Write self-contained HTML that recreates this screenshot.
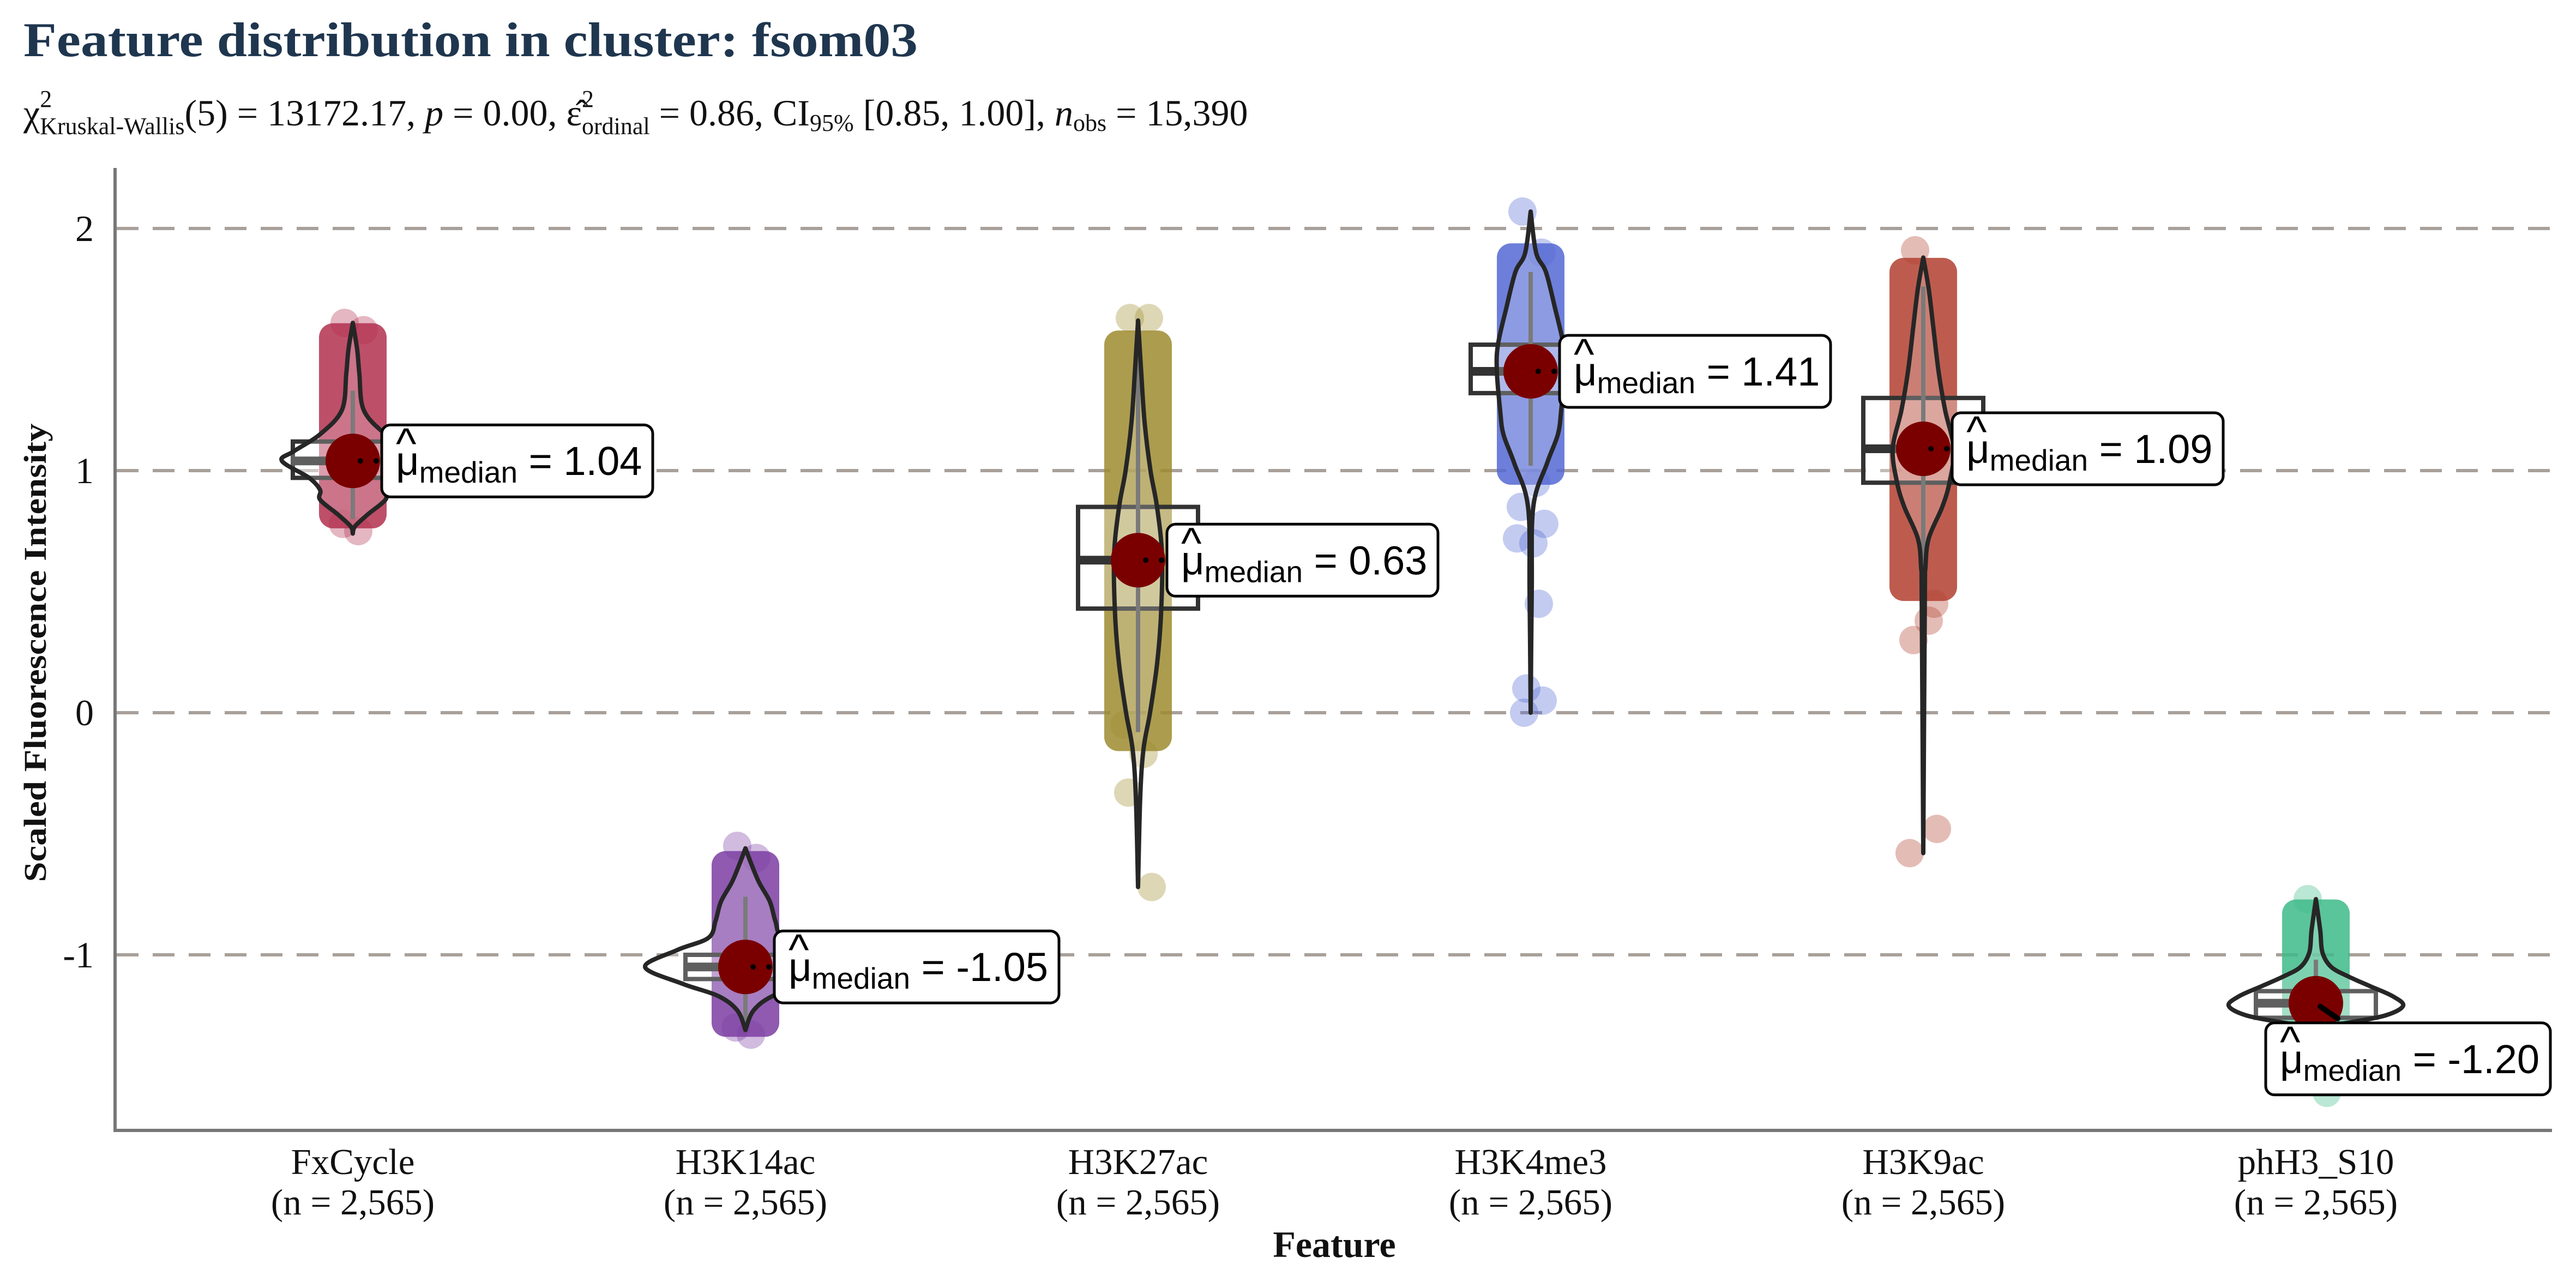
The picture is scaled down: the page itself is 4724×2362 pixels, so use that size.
<!DOCTYPE html>
<html><head><meta charset="utf-8"><style>
html,body{margin:0;padding:0;background:#fff;}
svg{display:block;}
</style></head><body>
<svg id="chart" xmlns="http://www.w3.org/2000/svg" width="4724" height="2362" viewBox="0 0 4724 2362">
<rect width="4724" height="2362" fill="#fff"/>
<text x="43" y="103" font-family="Liberation Serif, serif" font-weight="bold" font-size="89" fill="#1F364F" textLength="1640" lengthAdjust="spacingAndGlyphs">Feature distribution in cluster: fsom03</text>
<text id="subtitle" x="43" y="230" font-family="Liberation Serif, serif" font-size="68" fill="#111">χ<tspan font-size="44" dy="-34">2</tspan><tspan font-size="44" dx="-22" dy="50">Kruskal-Wallis</tspan><tspan dy="-16">(5) = 13172.17, </tspan><tspan font-style="italic">p</tspan><tspan> = 0.00, ε̂</tspan><tspan font-size="44" dy="-34">2</tspan><tspan font-size="44" dx="-22" dy="50">ordinal</tspan><tspan dy="-16"> = 0.86, CI</tspan><tspan font-size="44" dy="10">95%</tspan><tspan dy="-10"> [0.85, 1.00], </tspan><tspan font-style="italic">n</tspan><tspan font-size="44" dy="10">obs</tspan><tspan dy="-10"> = 15,390</tspan></text>
<g id="grid"></g>
<g id="marks"></g>
<g id="axes"></g>
</svg>
<script>
const categories = ["FxCycle","H3K14ac","H3K27ac","H3K4me3","H3K9ac","phH3_S10"];
const nLabels = ["(n = 2,565)","(n = 2,565)","(n = 2,565)","(n = 2,565)","(n = 2,565)","(n = 2,565)"];
const medians = [1.04,-1.05,0.63,1.41,1.09,-1.20];
const medianLabels = ["1.04","-1.05","0.63","1.41","1.09","-1.20"];
const q1 = [0.97,-1.10,0.43,1.32,0.95,-1.26];
const q3 = [1.12,-1.00,0.85,1.52,1.30,-1.15];
const whiskLow = [0.80,-1.32,-0.08,1.02,0.46,-1.36];
const whiskHigh = [1.33,-0.76,1.46,1.82,1.76,-1.02];
const denseLow = [0.82,-1.28,-0.10,1.00,0.52,-1.45];
const denseHigh = [1.55,-0.63,1.52,1.88,1.82,-0.83];
const outliers = [
 [1.61,1.58,0.75,0.78],
 [-0.55,-0.60,-1.33,-1.30],
 [1.63,1.63,-0.17,-0.33,-0.72,-0.05],
 [2.07,1.90,0.95,0.85,0.78,0.72,0.70,0.45,0.10,0.05,0.00],
 [1.91,0.45,0.38,0.30,-0.48,-0.58],
 [-0.77,-1.57]
];
const violinVals = [
 [1.61,1.50,1.40,1.25,1.15,1.08,1.04,0.97,0.92,0.88,0.82,0.77,0.74],
 [-0.56,-0.62,-0.70,-0.78,-0.86,-0.93,-0.98,-1.05,-1.12,-1.17,-1.23,-1.31],
 [1.62,1.40,1.20,1.00,0.85,0.65,0.40,0.20,0.00,-0.15,-0.35,-0.72],
 [2.07,1.90,1.82,1.67,1.52,1.41,1.25,1.15,1.03,0.85,0.50,0.00],
 [1.88,1.75,1.60,1.41,1.25,1.09,0.95,0.85,0.72,0.60,0.45,-0.58],
 [-0.77,-0.90,-0.99,-1.05,-1.09,-1.13,-1.17,-1.21,-1.25,-1.28,-1.30]
];
const violinDens = [
 [0,0.20,0.30,0.50,1.50,2.70,3.25,2.00,1.50,1.50,0.70,0.10,0],
 [0,0.25,0.62,1.12,1.37,1.70,3.12,4.60,2.87,1.25,0.37,0],
 [0,0.15,0.30,0.57,0.87,1.10,1.05,0.87,0.55,0.25,0.10,0],
 [0,0.25,0.70,1.12,1.50,1.55,1.40,1.25,0.75,0.12,0.05,0],
 [0,0.25,0.45,0.70,1.00,1.40,1.20,0.87,0.25,0.10,0.07,0],
 [0,0.20,0.30,0.70,1.50,2.50,3.50,4.00,3.20,1.50,0]
];
const yTicks = [-1,0,1,2];
const colors = ["#B3304F","#7B3DA2","#9E8B2F","#5469D3","#B2402F","#3DBA88"];

const NS="http://www.w3.org/2000/svg";
function el(tag, attrs, parent){const e=document.createElementNS(NS,tag);for(const k in attrs)e.setAttribute(k,attrs[k]);parent.appendChild(e);return e;}
function y(v){return 1307 - 444*v;}
function x(i){return 647 + 720*i;}
const DENS_PX = 40;
const grid=document.getElementById('grid'), marks=document.getElementById('marks'), axes=document.getElementById('axes');

yTicks.forEach(t=>{
 const g=el('line',{x1:214,x2:4680,y1:y(t),y2:y(t),stroke:'#A8A09A','stroke-width':6,'stroke-dasharray':'40 26'},grid);
 
 
 const tl=el('text',{x:172,y:y(t)+23,'text-anchor':'end','font-family':'Liberation Serif, serif','font-size':68,fill:'#111'},axes);
 tl.textContent=t;
 
 
});

function smoothPath(pts){
 let d='M'+pts[0][0]+','+pts[0][1];
 for(let i=0;i<pts.length-1;i++){
  const p0=pts[i-1]||pts[i],p1=pts[i],p2=pts[i+1],p3=pts[i+2]||p2;
  const c1=[p1[0]+(p2[0]-p0[0])/6,p1[1]+(p2[1]-p0[1])/6];
  const c2=[p2[0]-(p3[0]-p1[0])/6,p2[1]-(p3[1]-p1[1])/6];
  d+=' C'+c1[0]+','+c1[1]+' '+c2[0]+','+c2[1]+' '+p2[0]+','+p2[1];
 }
 return d;
}

const jitter=[-15,20,10,-18,25,-25,5,15,-8,22,-12];
categories.forEach((c,i)=>{
 const cx=x(i), col=colors[i];
 const g=el('g',{},marks);
 
 
 outliers[i].forEach((v,k)=>{
  const p=el('circle',{cx:cx+jitter[k%jitter.length],cy:y(v),r:26,fill:col,'fill-opacity':0.35},g);
  
  
 });
 const cl=el('rect',{x:cx-62,y:y(denseHigh[i])-26,width:124,height:y(denseLow[i])-y(denseHigh[i])+52,rx:26,fill:col,'fill-opacity':0.85},g);
 
 
 const bx=el('rect',{x:cx-110,y:y(q3[i]),width:220,height:y(q1[i])-y(q3[i]),fill:'#fff','fill-opacity':0.3,stroke:'#333','stroke-width':8},g);
 
 
 const wh=el('line',{x1:cx,x2:cx,y1:y(whiskLow[i]),y2:y(whiskHigh[i]),stroke:'#555','stroke-width':8},g);
 
 
 const ml=el('line',{x1:cx-110,x2:cx,y1:y(medians[i]),y2:y(medians[i]),stroke:'#333','stroke-width':16},g);
 
 
 const right=violinVals[i].map((v,k)=>[cx+violinDens[i][k]*DENS_PX,y(v)]);
 const left=violinVals[i].map((v,k)=>[cx-violinDens[i][k]*DENS_PX,y(v)]).reverse();
 const d=smoothPath(right)+' L'+smoothPath(left).slice(1)+' Z';
 const vp=el('path',{d:d,fill:'#fff','fill-opacity':0.22,stroke:'#262626','stroke-width':8,'stroke-linejoin':'round'},g);
 
 
 const my=y(medians[i]);
 const dot=el('circle',{cx:cx,cy:my,r:50,fill:'#7A0000'},g);
 
 
 const special = (i===5);
 const lx = special ? cx-92 : cx+53;
 const lcy = special ? my+102 : my;
 if(special){
  const ln=el('line',{x1:cx+8,y1:my+6,x2:cx+40,y2:my+28,stroke:'#000','stroke-width':10,'stroke-linecap':'round'},g);
  
  
 } else {
  el('circle',{cx:cx+14,cy:my,r:5,fill:'#000'},g);
  el('circle',{cx:cx+43,cy:my,r:5,fill:'#000'},g);
 }
 const lg=el('g',{},g);
 
 
 const box=el('rect',{x:lx,y:lcy-66,width:470,height:132,rx:16,fill:'#fff',stroke:'#000','stroke-width':5},lg);
 const t=el('text',{x:lx+26,y:lcy+26,'font-family':'Liberation Sans, sans-serif','font-size':74,fill:'#000'},lg);
 t.innerHTML='μ<tspan font-size="55" dy="14">median</tspan><tspan dy="-14"> = '+medianLabels[i]+'</tspan>';
 const hat=el('text',{x:lx+26,y:lcy-4,'font-family':'Liberation Sans, sans-serif','font-size':80,fill:'#000',transform:'translate(0,0)'},lg);
 hat.textContent='^';
 const w=t.getComputedTextLength();
 box.setAttribute('width', Math.round(w+46));
 const xt=el('text',{x:cx,y:2153,'text-anchor':'middle','font-family':'Liberation Serif, serif','font-size':67,fill:'#111'},axes);
 xt.textContent=c;
 
 
 const xn=el('text',{x:cx,y:2227,'text-anchor':'middle','font-family':'Liberation Serif, serif','font-size':67,fill:'#111'},axes);
 xn.textContent=nLabels[i];
 
 
});

const ya=el('line',{x1:211,x2:211,y1:308,y2:2076,stroke:'#777','stroke-width':6},axes);


const xa=el('line',{x1:208,x2:4680,y1:2073,y2:2073,stroke:'#777','stroke-width':6},axes);


const yt=el('text',{x:0,y:0,transform:'translate(84,1197) rotate(-90)','text-anchor':'middle','font-family':'Liberation Serif, serif','font-weight':'bold','font-size':58,fill:'#111',textLength:841,lengthAdjust:'spacingAndGlyphs'},axes);
yt.textContent='Scaled Fluorescence Intensity';


const xtt=el('text',{x:2447,y:2305,'text-anchor':'middle','font-family':'Liberation Serif, serif','font-weight':'bold','font-size':68,fill:'#111'},axes);
xtt.textContent='Feature';


</script>
</body></html>
